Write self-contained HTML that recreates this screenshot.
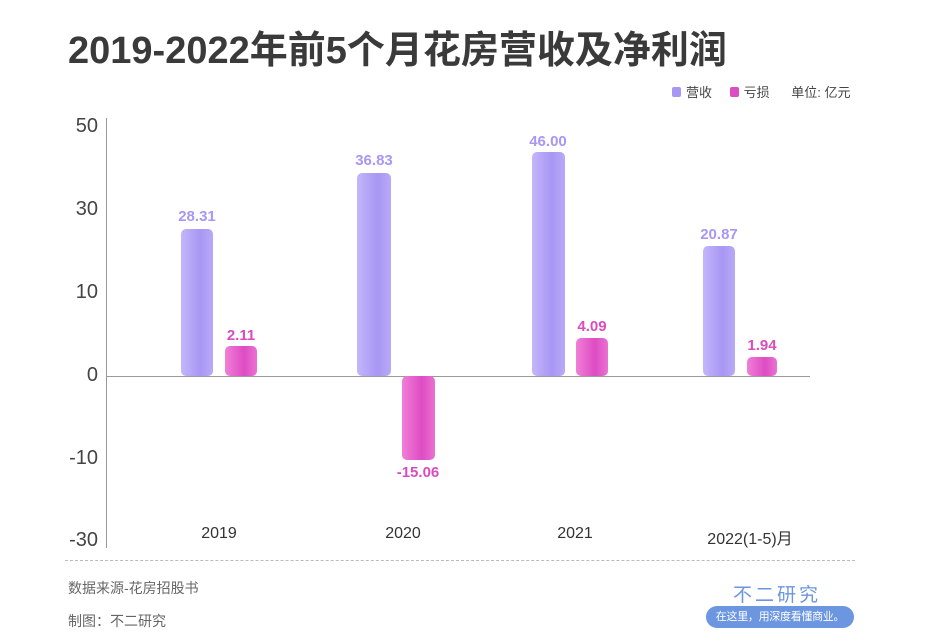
<!DOCTYPE html>
<html><head><meta charset="utf-8"><style>
body{margin:0;width:940px;height:644px;background:#fff;position:relative;overflow:hidden;font-family:"Liberation Sans","Noto Sans CJK SC",sans-serif}
.a{position:absolute}
.t{left:68px;top:19px;font-size:38px;font-weight:bold;color:#3a3a3a;white-space:nowrap}
.yl{font-size:20px;color:#444;text-align:right;width:40px;left:58px}
.bar{position:absolute;border-radius:5px}
.p{background:linear-gradient(90deg,#c4b6fb,#a897f3 60%,#b9a9f8)}
.k{background:linear-gradient(90deg,#f07fd7,#de4cc3 60%,#ea72d2)}
.vl{position:absolute;font-size:15px;font-weight:bold;text-align:center;width:80px}
.xl{position:absolute;top:525px;font-size:16px;color:#333;text-align:center;width:140px}
.f{font-size:14px;color:#666;left:68px}
</style></head><body>
<div class="a t">2019-2022年前5个月花房营收及净利润</div>
<div class="a" style="left:672px;top:82px;font-size:13px;color:#444;white-space:nowrap">
<span style="display:inline-block;width:9px;height:10px;background:#a897f3;border-radius:2px;margin-right:5px"></span>营收
<span style="display:inline-block;width:9px;height:10px;background:#de4cc3;border-radius:2px;margin:0 5px 0 14px"></span>亏损
<span style="margin-left:18px">单位: 亿元</span></div>
<div class="a yl" style="top:115px">50</div>
<div class="a yl" style="top:198px">30</div>
<div class="a yl" style="top:281px">10</div>
<div class="a yl" style="top:364px">0</div>
<div class="a yl" style="top:447px">-10</div>
<div class="a yl" style="top:529px">-30</div>
<div class="a" style="left:106px;top:118px;width:1px;height:430px;background:#999"></div>
<div class="a" style="left:106px;top:376px;width:704px;height:1px;background:#999"></div>

<div class="bar p" style="left:181px;top:229px;width:32px;height:147px"></div>
<div class="bar k" style="left:225px;top:346px;width:32px;height:30px"></div>
<div class="bar p" style="left:357px;top:173px;width:34px;height:203px"></div>
<div class="bar k" style="left:402px;top:376px;width:33px;height:84px"></div>
<div class="bar p" style="left:532px;top:152px;width:33px;height:224px"></div>
<div class="bar k" style="left:576px;top:338px;width:32px;height:38px"></div>
<div class="bar p" style="left:703px;top:246px;width:32px;height:130px"></div>
<div class="bar k" style="left:747px;top:357px;width:30px;height:19px"></div>

<div class="vl" style="left:157px;top:208px;color:#a897f3">28.31</div>
<div class="vl" style="left:201px;top:327px;color:#d94cbf">2.11</div>
<div class="vl" style="left:334px;top:152px;color:#a897f3">36.83</div>
<div class="vl" style="left:378px;top:464px;color:#d94cbf">-15.06</div>
<div class="vl" style="left:508px;top:133px;color:#a897f3">46.00</div>
<div class="vl" style="left:552px;top:318px;color:#d94cbf">4.09</div>
<div class="vl" style="left:679px;top:226px;color:#a897f3">20.87</div>
<div class="vl" style="left:722px;top:337px;color:#d94cbf">1.94</div>

<div class="xl" style="left:149px">2019</div>
<div class="xl" style="left:333px">2020</div>
<div class="xl" style="left:505px">2021</div>
<div class="xl" style="left:680px">2022(1-5)月</div>
<div class="a" style="left:65px;top:560px;width:790px;border-top:1px dashed #bbb"></div>
<div class="a f" style="top:578px">数据来源-花房招股书</div>
<div class="a f" style="top:611px">制图：不二研究</div>
<div class="a" style="left:733px;top:580px;font-size:19px;color:#6c96e0;letter-spacing:3px">不二研究</div>
<div class="a" style="left:706px;top:606px;width:148px;height:22px;background:#6c96e0;border-radius:11px;color:#fff;font-size:11px;line-height:22px;text-align:center;white-space:nowrap;letter-spacing:-0.3px">在这里，用深度看懂商业。</div>
</body></html>
